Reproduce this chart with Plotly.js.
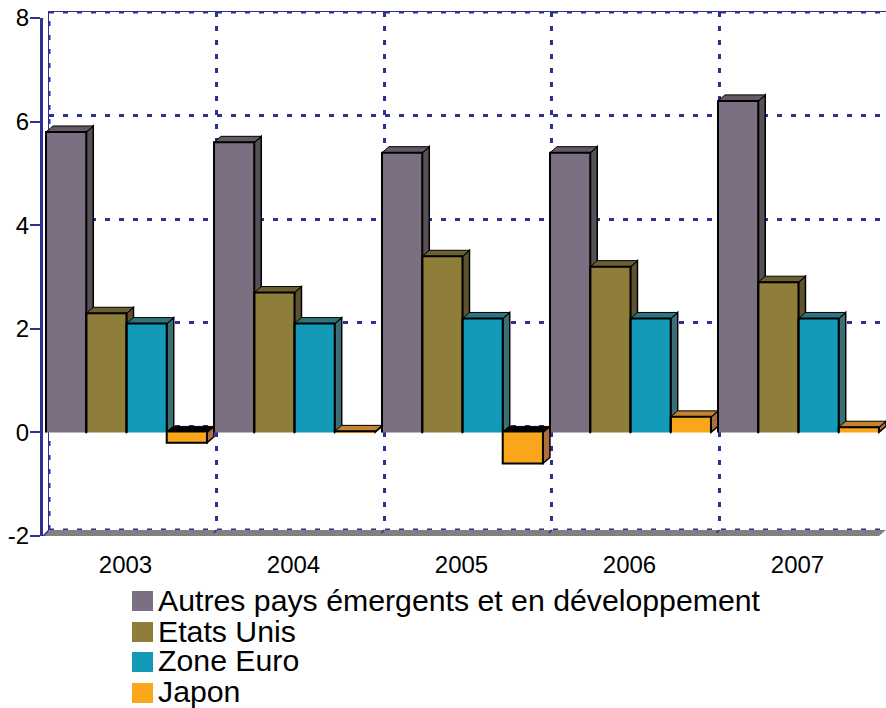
<!DOCTYPE html>
<html>
<head>
<meta charset="utf-8">
<script src="https://cdn.plot.ly/plotly-3.0.1.min.js"></script>
<style>html,body{margin:0;padding:0;background:#fff}#c{width:886px;height:708px}</style>
</head>
<body>
<div id="c"></div>
<script>
const categories = [2003, 2004, 2005, 2006, 2007];
const autres = [5.8, 5.6, 5.4, 5.4, 6.4];
const etatsUnis = [2.3, 2.7, 3.4, 3.2, 2.9];
const zoneEuro = [2.1, 2.1, 2.2, 2.2, 2.2];
const japon = [-0.2, 0.02, -0.6, 0.3, 0.1];
const yTicks = [-2, 0, 2, 4, 6, 8];
const yTickText = ['-2', '0', '2', '4', '6', '8'];
const seriesNames = ['Autres pays émergents et en développement', 'Etats Unis', 'Zone Euro', 'Japon'];
const seriesValues = [autres, etatsUnis, zoneEuro, japon];
const frontColors = ['#7b6f82', '#8f7d3a', '#129ab8', '#f9a61a'];
const topColors = ['#635a64', '#6e5f30', '#2c7480', '#c6832f'];
const sideColors = ['#585058', '#5f5230', '#3b6f78', '#ad6f3c'];

const W = 886, H = 708, navy = '#2e3192';
const fx = p => p / W, fy = p => 1 - p / H;

const bargap = 0.042;
const groupW = 1 - bargap, barW = groupW / seriesValues.length;
const dx = 7 / 168, dy = 6 / 51.8;

const traces = [{
  type: 'scatter', mode: 'markers', x: categories, y: autres, xaxis: 'x', yaxis: 'y',
  marker: {opacity: 0}, showlegend: false, hoverinfo: 'skip'
}];
const shapes = [];

// Dotted grid lines on the back wall's edges (the axes leave out grid lines at their own ends)
const wallX0 = 2002.5, wallX1 = 2007.494;
const dotted = {color: navy, width: 3, dash: '5px,9px'};
shapes.push({type: 'line', xref: 'x', yref: 'y', layer: 'below', x0: wallX0, x1: wallX1, y0: 8, y1: 8, line: dotted});
shapes.push({type: 'line', xref: 'x', yref: 'y', layer: 'below', x0: wallX0, x1: wallX1, y0: -2, y1: -2, line: dotted});
shapes.push({type: 'line', xref: 'x', yref: 'y', layer: 'below', x0: wallX0, x1: wallX0, y0: -2, y1: 8, line: dotted});

seriesValues.forEach((vals, s) => {
  traces.push({
    type: 'bar', name: seriesNames[s], x: categories, y: vals, xaxis: 'x2', yaxis: 'y2',
    marker: {color: frontColors[s], line: {width: 0}}, showlegend: false
  });
});

seriesValues.forEach((vals, s) => {
  const ox = [], oy = [];
  vals.forEach((v, c) => {
    const x0 = categories[c] - groupW / 2 + s * barW, x1 = x0 + barW;
    const top = Math.max(v, 0), bot = Math.min(v, 0);
    shapes.push({
      type: 'path', xref: 'x2', yref: 'y2', layer: 'below',
      path: `M${x1},${top}L${x1 + dx},${top + dy}L${x1 + dx},${bot + dy}L${x1},${bot}Z`,
      fillcolor: sideColors[s], line: {color: '#000', width: 1.5}
    });
    shapes.push({
      type: 'path', xref: 'x2', yref: 'y2', layer: 'below',
      path: `M${x0},${top}L${x0 + dx},${top + dy}L${x1 + dx},${top + dy}L${x1},${top}Z`,
      fillcolor: v < 0 ? '#000' : topColors[s], line: {color: '#000', width: 1}
    });
    ox.push(x0, x0, x1, x1, null);
    oy.push(0, v, v, 0, null);
  });
  traces.push({
    type: 'scatter', mode: 'lines', x: ox, y: oy, xaxis: 'x2', yaxis: 'y2',
    line: {color: '#000', width: 2}, showlegend: false, hoverinfo: 'skip'
  });
});

const xL = 2002.503, xR = 2007.521;
shapes.unshift({
  type: 'path', xref: 'x2', yref: 'y2', layer: 'below',
  path: `M${xL},-2L${xL + dx},${-2 + dy}L${xR},${-2 + dy}L${xR - dx},-2Z`,
  fillcolor: '#808080', line: {width: 0}
});
[-2, 8].forEach(v => shapes.push({
  type: 'line', xref: 'x2', yref: 'y2', layer: 'below',
  x0: xL, y0: v, x1: xL + 6 / 168, y1: v + dy, line: {color: navy, width: 1.5}
}));
// Short joints where the wall's vertical grid lines meet the floor
categories.slice(1).forEach((c, i) => {
  const jx = xL + (6 + (i + 1) * 167.6) / 168;
  shapes.push({
    type: 'line', xref: 'x2', yref: 'y2', layer: 'below',
    x0: jx, y0: -2 + dy, x1: jx - 3 / 168, y1: -2 + dy - 3 / 51.8, line: {color: navy, width: 1.5}
  });
});

const annotations = [];
const swatchTops = [591, 622, 652, 683];
const textCentres = [600, 631, 660, 691];
seriesNames.forEach((n, s) => {
  shapes.push({
    type: 'rect', xref: 'paper', yref: 'paper',
    x0: fx(132), x1: fx(153), y0: fy(swatchTops[s]), y1: fy(swatchTops[s] + 20),
    fillcolor: frontColors[s], line: {width: 0}
  });
  annotations.push({
    xref: 'paper', yref: 'paper', x: fx(157), y: fy(textCentres[s]),
    xanchor: 'left', yanchor: 'middle', showarrow: false, text: n,
    borderpad: 0, font: {family: 'Liberation Sans, Arial, sans-serif', size: 30.25, color: '#000'}
  });
});

const layout = {
  width: W, height: H, margin: {l: 0, r: 0, t: 0, b: 0, pad: 0},
  paper_bgcolor: '#fff', plot_bgcolor: 'rgba(0,0,0,0)',
  font: {family: 'Liberation Sans, Arial, sans-serif', color: '#000'},
  barmode: 'group', bargap: bargap, bargroupgap: 0, showlegend: false,
  xaxis: {
    domain: [fx(49), 1], range: [wallX0, wallX1], anchor: 'y', side: 'top',
    tickmode: 'array', tickvals: categories.map(c => c - 0.5), showticklabels: false, ticks: '',
    showgrid: true, griddash: '5px,9px', gridwidth: 3, gridcolor: navy,
    showline: true, linecolor: navy, linewidth: 1, zeroline: false
  },
  yaxis: {
    domain: [fy(530), fy(12)], range: [-2, 8], anchor: 'x',
    tickmode: 'array', tickvals: yTicks, showticklabels: false, ticks: '',
    showgrid: true, griddash: '5px,9px', gridwidth: 3, gridcolor: navy,
    showline: true, linecolor: navy, linewidth: 1, zeroline: false
  },
  xaxis2: {
    domain: [fx(43), 1], range: [xL, xR], anchor: 'y2',
    tickmode: 'array', tickvals: categories, ticktext: categories.map(String),
    ticks: '', showgrid: false, zeroline: false, showline: false,
    tickfont: {size: 24, color: '#000'}, ticklabelstandoff: 12, ticklabelshift: -1
  },
  yaxis2: {
    domain: [fy(536), fy(18)], range: [-2, 8], anchor: 'x2',
    tickmode: 'array', tickvals: yTicks, ticktext: yTickText, ticks: 'outside', ticklen: 10, tickwidth: 2, tickcolor: navy,
    showgrid: false, zeroline: false, showline: true, linecolor: navy, linewidth: 3,
    tickfont: {size: 24, color: '#000'}, ticklabelstandoff: -4
  },
  shapes: shapes, annotations: annotations
};
Plotly.newPlot('c', traces, layout, {displayModeBar: false, responsive: false});
</script>
</body>
</html>
